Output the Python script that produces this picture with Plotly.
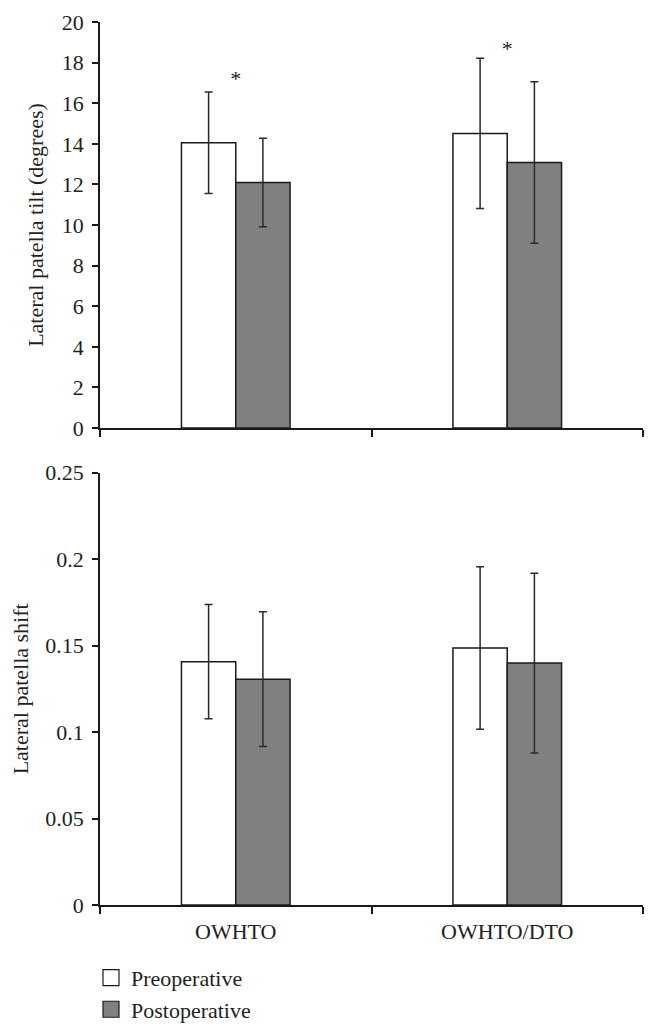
import plotly.graph_objects as go
from plotly.subplots import make_subplots

categories = ["OWHTO", "OWHTO/DTO"]
series_names = ["Preoperative", "Postoperative"]

tilt_pre = [14.05, 14.51]
tilt_pre_err = [2.50, 3.70]
tilt_post = [12.09, 13.08]
tilt_post_err = [2.18, 3.98]
tilt_star_y = [17.1, 18.6]

shift_pre = [0.1407, 0.1486]
shift_pre_err = [0.033, 0.047]
shift_post = [0.1306, 0.1399]
shift_post_err = [0.039, 0.052]

FONT = "Liberation Serif"
FS = 22
TXT = "#231f20"
FILL = ["#ffffff", "#808080"]

fig = make_subplots(rows=2, cols=1, shared_xaxes=False, vertical_spacing=0.0506,
                    row_heights=[0.4598, 0.4896])

def add_bars(row, pre, pre_err, post, post_err):
    for name, vals, errs, fill in [(series_names[0], pre, pre_err, FILL[0]),
                                   (series_names[1], post, post_err, FILL[1])]:
        fig.add_trace(go.Bar(
            x=categories, y=vals, name=name, showlegend=False, legendgroup=name,
            marker=dict(color=fill, line=dict(color="#1a1a1a", width=1.5)),
            error_y=dict(type="data", array=errs, visible=True, color="#2a2a2a",
                         thickness=1.5, width=4),
        ), row=row, col=1)

add_bars(1, tilt_pre, tilt_pre_err, tilt_post, tilt_post_err)
add_bars(2, shift_pre, shift_pre_err, shift_post, shift_post_err)

fig.add_trace(go.Scatter(x=categories, y=tilt_star_y, mode="text", text=["*", "*"],
                         textposition="middle center",
                         textfont=dict(family=FONT, size=FS, color=TXT),
                         showlegend=False, hoverinfo="skip"), row=1, col=1)

for name, fill in zip(series_names, FILL):
    fig.add_trace(go.Scatter(x=[None], y=[None], mode="markers", name=name,
                             legendgroup=name,
                             marker=dict(symbol="square", size=20, color=fill,
                                         line=dict(color="#1a1a1a", width=1.2))),
                  row=2, col=1)

axis_common = dict(showline=True, linecolor="#1a1a1a", linewidth=1.5,
                   showgrid=False, zeroline=False, ticks="outside",
                   tickcolor="#1a1a1a", tickwidth=1.5, automargin=False)

fig.update_xaxes(type="category", range=[-0.5, 1.5], tickson="boundaries",
                 ticklen=7, **axis_common)
fig.update_xaxes(showticklabels=False, row=1, col=1)
fig.update_xaxes(tickfont=dict(family=FONT, size=FS, color=TXT),
                 ticklabelstandoff=6, row=2, col=1)

fig.update_yaxes(ticklen=6, tickfont=dict(family=FONT, size=FS, color=TXT),
                 ticklabelstandoff=4, **axis_common)
fig.update_yaxes(range=[0, 20], dtick=2, row=1, col=1,
                 title=dict(text="Lateral patella tilt (degrees)", standoff=12,
                            font=dict(family=FONT, size=FS, color=TXT)))
fig.update_yaxes(range=[0, 0.25], dtick=0.05, row=2, col=1,
                 title=dict(text="Lateral patella shift", standoff=12,
                            font=dict(family=FONT, size=FS, color=TXT)))

fig.update_layout(
    width=658, height=1034,
    margin=dict(l=92, r=23, t=14, b=137, autoexpand=False),
    barmode="group", bargap=0.6, bargroupgap=0,
    plot_bgcolor="white", paper_bgcolor="white",
    font=dict(family=FONT, size=FS, color=TXT),
    legend=dict(x=-0.0166, y=-0.0587, xanchor="left", yanchor="top",
                font=dict(family=FONT, size=FS, color=TXT),
                itemsizing="trace", tracegroupgap=0, bgcolor="rgba(0,0,0,0)"),
    showlegend=True,
)

fig.write_html("out.html")
